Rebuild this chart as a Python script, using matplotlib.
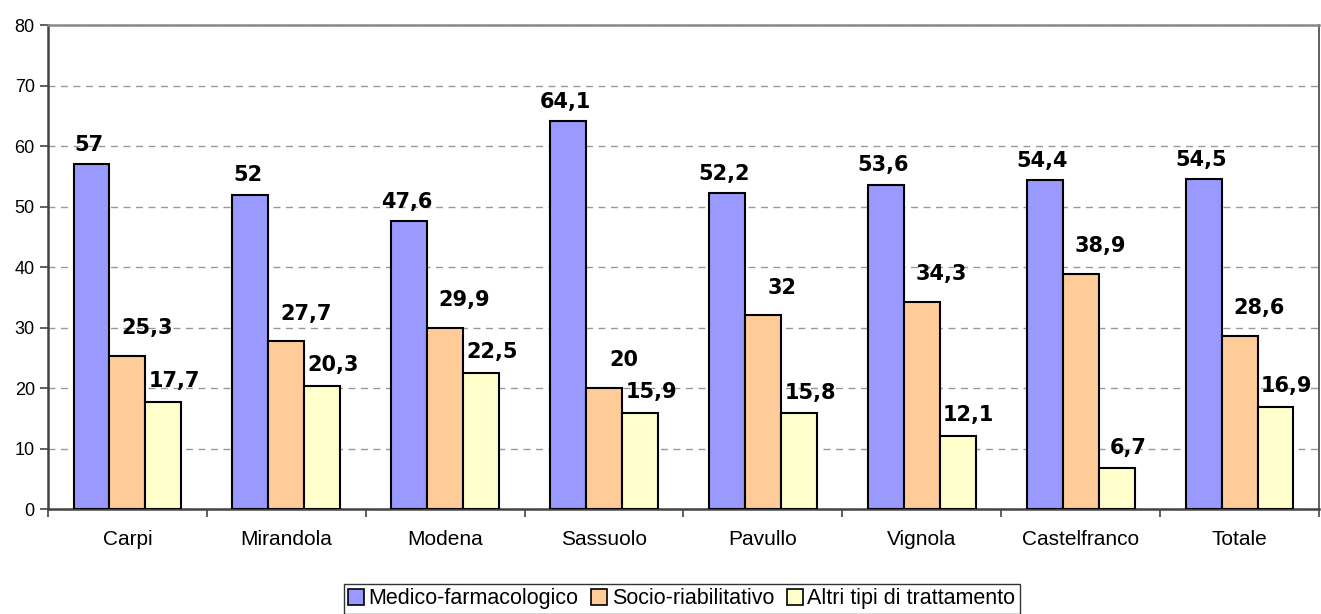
import matplotlib
matplotlib.use("Agg")
import matplotlib.pyplot as plt
import numpy as np
from matplotlib.transforms import offset_copy

categories = ["Carpi", "Mirandola", "Modena", "Sassuolo", "Pavullo", "Vignola", "Castelfranco", "Totale"]
medico = [57, 52, 47.6, 64.1, 52.2, 53.6, 54.4, 54.5]
socio = [25.3, 27.7, 29.9, 20, 32, 34.3, 38.9, 28.6]
altri = [17.7, 20.3, 22.5, 15.9, 15.8, 12.1, 6.7, 16.9]
series_names = ["Medico-farmacologico", "Socio-riabilitativo", "Altri tipi di trattamento"]
colors = ["#9999FF", "#FFCC99", "#FFFFCC"]

plt.rcParams['font.family'] = ['Liberation Sans', 'DejaVu Sans']

fig = plt.figure(figsize=(13.21, 6.14), dpi=100)
ax = fig.add_axes([0.0363, 0.171, 0.9622, 0.788])

x = np.arange(len(categories))
w = 0.226
label_dx = [-2, 14, 8]
label_dy = [14, 20, 15]
for i, (vals, name, col) in enumerate(zip([medico, socio, altri], series_names, colors)):
    pos = x + (i - 1) * w
    ax.bar(pos, vals, width=w, color=col, edgecolor="black", linewidth=1.5, label=name, zorder=3)
    for p, v in zip(pos, vals):
        s = ("%g" % v).replace(".", ",")
        tr = offset_copy(ax.transData, fig=fig, x=label_dx[i], y=label_dy[i], units="points")
        ax.text(p, v, s, transform=tr, ha="center", va="center", fontsize=15,
                fontweight="bold", family="DejaVu Sans", zorder=4)

ax.set_xlim(-0.5, len(categories) - 0.5)
ax.set_ylim(0, 80)
ax.set_yticks(np.arange(0, 81, 10))
ax.yaxis.grid(True, linestyle=(0, (5, 4)), color="#999999", linewidth=1, zorder=0)
ax.set_xticks(x)
ax.set_xticklabels(categories, fontsize=15)
ax.set_xticks(np.arange(-0.5, len(categories)), minor=True)
ax.tick_params(axis="x", which="major", length=0, pad=15)
ax.tick_params(axis="x", which="minor", length=6, width=1.2, color="#444444", direction="out")
ax.tick_params(axis="y", labelsize=13, length=6, width=1.2, color="#444444", direction="out")
for s in ["left", "bottom"]:
    ax.spines[s].set_color("#444444")
    ax.spines[s].set_linewidth(1.8)
ax.spines["top"].set_color("#888888")
ax.spines["top"].set_linewidth(1.8)
ax.spines["right"].set_color("#444444")
ax.spines["right"].set_linewidth(1.2)

leg = fig.legend(loc="upper center", bbox_to_anchor=(0.516, 0.049), ncol=3, fontsize=15.5,
                 frameon=True, fancybox=False, edgecolor="black", handlelength=0.75,
                 handleheight=0.75, handletextpad=0.2, columnspacing=0.6, borderpad=0.2,
                 borderaxespad=0)
leg.get_frame().set_linewidth(1.0)
for h in leg.legend_handles:
    h.set_linewidth(1.2)

fig.savefig("out.png", dpi=100)
